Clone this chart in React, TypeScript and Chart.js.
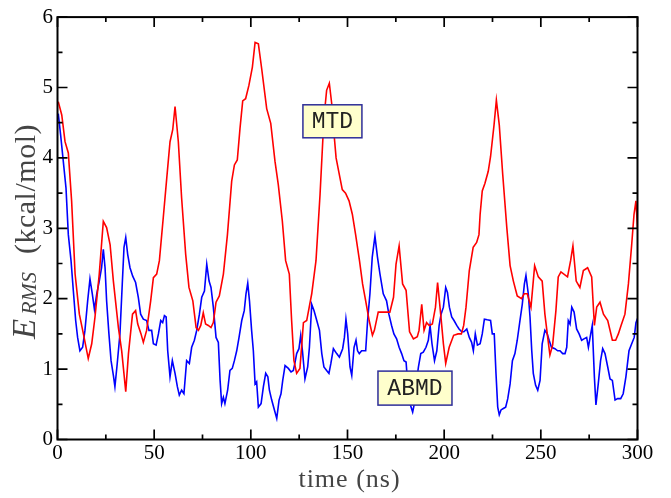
import { useEffect, useRef } from "react";
import { Chart, registerables } from "chart.js";

Chart.register(...registerables);

// ---- data ----
const mtdTime = [
  0.4, 2.2, 3.9, 5.6, 7.3, 9.1, 11.3, 13.4, 15.9, 17.7, 19.4, 21.6, 23.7, 25.4, 27.2, 28.9, 31.5, 33.2, 35.3, 36.7,
  38.8, 40.4, 41.5, 43.2, 44.4, 46.1, 48.2, 49.6, 51.3, 52.7, 54.7, 56.5, 58.2, 59.6, 60.8, 62.5, 64.2, 66.3, 68.0, 70.0,
  71.7, 72.9, 74.1, 75.4, 76.6, 78.0, 79.4, 80.6, 82.0, 83.7, 85.8, 87.9, 90.1, 91.5, 93.0, 94.4, 95.8, 97.3, 99.0, 100.8,
  102.2, 103.9, 105.6, 108.2, 110.3, 112.5, 114.2, 116.3, 118.0, 119.9, 121.1, 122.3, 123.7, 125.4, 127.2, 128.9, 131.5, 133.7, 135.8, 137.8,
  139.2, 140.6, 141.8, 143.0, 144.1, 145.3, 147.3, 149.0, 150.8, 152.5, 154.2, 156.2, 157.8, 159.4, 161.2, 162.9, 163.9, 165.9, 168.8, 171.9,
  173.8, 175.1, 176.7, 178.5, 180.3, 182.1, 184.1, 186.1, 187.0, 188.4, 189.6, 190.9, 192.3, 193.9, 195.5, 196.6, 198.2, 199.6, 200.8, 202.6,
  204.9, 207.2, 208.9, 210.1, 211.3, 213.0, 215.0, 216.8, 218.0, 218.6, 219.7, 221.1, 222.8, 224.0, 225.8, 227.0, 228.5, 230.3, 232.4, 234.1,
  235.8, 237.8, 240.0, 241.4, 243.0, 244.9, 246.8, 248.7, 250.7, 252.1, 253.5, 254.7, 256.1, 257.8, 259.0, 260.4, 263.8, 265.4, 266.6, 268.3,
  270.2, 272.0, 274.2, 276.3, 277.7, 278.9, 280.6, 282.4, 284.6, 287.0, 288.7, 290.1, 291.5, 293.5, 295.3, 297.0, 298.2, 299.2, 300.0,
];
const mtdEnergy = [
  4.80, 4.61, 4.23, 4.07, 3.39, 2.35, 1.78, 1.50, 1.15, 1.36, 1.74, 2.35, 3.10, 3.01, 2.77, 2.25, 1.59, 1.26, 0.68, 1.22,
  1.78, 1.83, 1.64, 1.50, 1.38, 1.55, 1.97, 2.30, 2.35, 2.54, 3.15, 3.71, 4.23, 4.40, 4.73, 4.23, 3.43, 2.63, 2.16, 1.97,
  1.59, 1.55, 1.62, 1.80, 1.64, 1.62, 1.59, 1.66, 1.95, 2.04, 2.35, 2.91, 3.67, 3.90, 3.97, 4.42, 4.81, 4.84, 5.03, 5.29,
  5.64, 5.62, 5.27, 4.70, 4.49, 3.95, 3.62, 3.10, 2.54, 2.35, 1.69, 1.12, 0.94, 1.01, 1.66, 1.69, 2.07, 2.54, 3.48, 4.56,
  4.96, 5.06, 4.78, 4.35, 4.00, 3.83, 3.55, 3.50, 3.39, 3.20, 2.91, 2.54, 2.21, 1.97, 1.69, 1.48, 1.55, 1.81, 1.81, 1.81,
  2.02, 2.49, 2.75, 2.21, 2.12, 1.53, 1.43, 1.46, 1.55, 1.92, 1.55, 1.66, 1.62, 1.64, 1.88, 2.23, 1.78, 1.36, 1.08, 1.31,
  1.48, 1.50, 1.50, 1.62, 1.88, 2.40, 2.73, 2.80, 2.91, 3.20, 3.53, 3.64, 3.81, 4.02, 4.47, 4.82, 4.47, 3.76, 3.01, 2.47,
  2.25, 2.04, 2.00, 2.07, 2.07, 1.88, 2.47, 2.31, 2.25, 1.78, 1.46, 1.20, 1.34, 1.83, 2.31, 2.38, 2.31, 2.54, 2.75, 2.25,
  2.16, 2.40, 2.44, 2.31, 1.62, 1.88, 1.95, 1.78, 1.69, 1.41, 1.41, 1.50, 1.62, 1.78, 2.21, 2.77, 3.20, 3.39, 3.00,
];
const abmdTime = [
  0.4, 1.6, 3.0, 4.4, 5.6, 7.0, 8.2, 9.4, 10.4, 11.6, 13.0, 14.2, 15.6, 16.8, 18.0, 19.1, 20.3, 21.6, 22.8, 23.7,
  24.6, 25.4, 26.6, 27.7, 28.9, 29.7, 30.9, 32.3, 33.5, 34.4, 35.3, 36.3, 37.5, 38.9, 40.4, 41.8, 43.0, 44.4, 46.1, 47.3,
  48.7, 49.6, 51.0, 52.2, 53.4, 54.4, 55.3, 56.2, 57.0, 58.2, 59.4, 60.8, 62.0, 63.0, 64.2, 65.4, 66.8, 68.2, 69.4, 70.8,
  72.0, 73.4, 74.6, 76.0, 77.2, 78.4, 79.4, 80.6, 82.0, 83.2, 84.1, 84.9, 85.8, 86.6, 88.0, 89.2, 90.4, 91.5, 92.7, 93.9,
  95.3, 96.6, 97.5, 98.4, 99.3, 100.4, 101.3, 102.2, 103.0, 103.9, 105.3, 106.5, 107.7, 108.8, 109.6, 110.8, 112.2, 113.4, 114.6, 115.6,
  116.5, 117.7, 119.4, 120.8, 122.0, 122.9, 123.7, 124.9, 125.8, 126.7, 128.0, 129.4, 130.3, 131.5, 132.7, 134.1, 135.5, 136.7, 137.8, 139.2,
  140.4, 141.4, 142.7, 144.4, 145.8, 147.5, 148.4, 149.2, 150.1, 151.3, 152.2, 153.4, 154.4, 155.2, 156.1, 157.3, 159.4, 160.4, 161.6, 162.8,
  164.2, 165.5, 166.8, 168.5, 170.2, 171.4, 172.8, 174.0, 175.4, 176.7, 178.0, 179.2, 180.3, 181.0, 182.3, 183.7, 184.6, 185.5, 186.7, 187.9,
  189.2, 190.6, 191.8, 192.7, 193.7, 195.0, 196.2, 197.4, 198.4, 199.6, 200.8, 201.7, 202.7, 203.9, 205.1, 206.5, 207.7, 209.1, 210.2, 211.7,
  213.0, 214.2, 215.1, 216.1, 217.2, 218.6, 219.7, 220.8, 222.3, 224.0, 224.9, 225.9, 226.8, 227.7, 228.5, 229.4, 230.6, 231.8, 232.9, 234.1,
  235.3, 236.6, 237.8, 239.2, 240.4, 241.5, 242.3, 243.5, 244.4, 245.3, 246.1, 247.3, 248.4, 249.6, 250.7, 252.1, 253.3, 254.3, 255.5, 257.3,
  258.7, 259.9, 261.3, 262.5, 263.4, 264.2, 265.1, 266.0, 267.2, 268.5, 269.8, 271.1, 272.3, 273.7, 274.6, 275.8, 276.6, 277.7, 278.5, 279.7,
  280.9, 282.0, 283.2, 284.6, 285.8, 287.0, 288.4, 289.7, 291.3, 292.6, 294.0, 295.6, 297.0, 298.3, 299.2, 300.0,
];
const abmdEnergy = [
  4.63, 4.33, 3.95, 3.57, 2.91, 2.54, 2.11, 1.69, 1.45, 1.26, 1.31, 1.55, 1.97, 2.28, 2.07, 1.85, 2.07, 2.25, 2.44, 2.70,
  2.44, 1.97, 1.50, 1.12, 0.91, 0.75, 1.08, 1.50, 2.21, 2.73, 2.87, 2.63, 2.44, 2.32, 2.23, 2.02, 1.78, 1.71, 1.69, 1.55,
  1.55, 1.36, 1.34, 1.50, 1.69, 1.66, 1.76, 1.74, 1.26, 0.89, 1.12, 0.94, 0.75, 0.63, 0.70, 0.65, 1.12, 1.08, 1.31, 1.41,
  1.55, 1.78, 2.02, 2.11, 2.49, 2.25, 2.16, 1.88, 1.45, 1.38, 0.84, 0.51, 0.60, 0.51, 0.70, 0.98, 1.01, 1.12, 1.26, 1.45,
  1.69, 1.83, 2.07, 2.22, 1.97, 1.55, 1.26, 0.79, 0.82, 0.46, 0.51, 0.75, 0.94, 0.89, 0.70, 0.56, 0.42, 0.30, 0.56, 0.65,
  0.84, 1.05, 1.01, 0.96, 0.98, 1.10, 1.22, 1.29, 1.48, 1.26, 0.86, 1.03, 1.31, 1.92, 1.83, 1.69, 1.55, 1.22, 1.03, 0.98,
  0.94, 1.08, 1.29, 1.22, 1.17, 1.29, 1.45, 1.71, 1.50, 1.03, 0.91, 1.31, 1.41, 1.26, 1.22, 1.26, 1.26, 1.69, 2.07, 2.59,
  2.89, 2.59, 2.35, 2.07, 1.97, 1.78, 1.62, 1.50, 1.43, 1.31, 1.22, 1.12, 1.10, 0.84, 0.51, 0.39, 0.51, 0.79, 1.03, 1.22,
  1.24, 1.31, 1.41, 1.62, 1.36, 1.12, 1.26, 1.62, 1.78, 1.88, 2.16, 2.09, 1.88, 1.74, 1.69, 1.62, 1.57, 1.53, 1.53, 1.57,
  1.45, 1.38, 1.26, 1.50, 1.34, 1.36, 1.50, 1.71, 1.70, 1.69, 1.50, 1.50, 0.94, 0.46, 0.35, 0.42, 0.44, 0.46, 0.58, 0.79,
  1.12, 1.22, 1.41, 1.69, 1.92, 2.21, 2.33, 2.07, 1.74, 1.26, 0.94, 0.77, 0.70, 0.84, 1.36, 1.55, 1.50, 1.41, 1.31, 1.29,
  1.26, 1.26, 1.22, 1.22, 1.31, 1.69, 1.64, 1.88, 1.81, 1.57, 1.50, 1.41, 1.43, 1.45, 1.31, 1.50, 1.62, 0.89, 0.49, 0.79,
  1.12, 1.29, 1.22, 1.03, 0.86, 0.84, 0.56, 0.58, 0.58, 0.65, 0.89, 1.26, 1.36, 1.45, 1.66, 1.72,
];
const seriesNames = ["MTD", "ABMD"];
const xTickValues = [0, 50, 100, 150, 200, 250, 300];
const yTickValues = [0, 1, 2, 3, 4, 5, 6];
const xAxisTitle = "time (ns)";
const yAxisTitleMain = "E";
const yAxisTitleSub = "RMS";
const yAxisTitleUnit = "(kcal/mol)";

const toPoints = (xs: number[], ys: number[]) => xs.map((x, i) => ({ x, y: ys[i] }));

const SERIF = "'Liberation Serif', 'Times New Roman', serif";
const MONO = "'Liberation Mono', 'DejaVu Sans Mono', monospace";

const decorPlugin = {
  id: "decor",
  afterDatasetsDraw(chart: any) {
    const { ctx, chartArea: a, scales } = chart;
    const xs = scales.x;
    const ys = scales.y;
    ctx.save();
    // inward ticks on all four sides
    ctx.strokeStyle = "#000";
    ctx.lineWidth = 1.7;
    ctx.beginPath();
    const xStep = (xTickValues[1] - xTickValues[0]) / 2;
    for (let v = xTickValues[0]; v <= xTickValues[xTickValues.length - 1] + 1e-6; v += xStep) {
      const px = xs.getPixelForValue(v);
      const major = Math.abs(((v - xTickValues[0]) / (2 * xStep)) % 1) < 1e-6;
      const len = major ? 10 : 5;
      ctx.moveTo(px, a.bottom);
      ctx.lineTo(px, a.bottom - len);
      ctx.moveTo(px, a.top);
      ctx.lineTo(px, a.top + len);
    }
    const yStep = (yTickValues[1] - yTickValues[0]) / 2;
    for (let v = yTickValues[0]; v <= yTickValues[yTickValues.length - 1] + 1e-6; v += yStep) {
      const py = ys.getPixelForValue(v);
      const major = Math.abs(((v - yTickValues[0]) / (2 * yStep)) % 1) < 1e-6;
      const len = major ? 10 : 5;
      ctx.moveTo(a.left, py);
      ctx.lineTo(a.left + len, py);
      ctx.moveTo(a.right, py);
      ctx.lineTo(a.right - len, py);
    }
    ctx.stroke();
    // frame
    ctx.lineWidth = 2;
    ctx.strokeRect(a.left, a.top, a.right - a.left, a.bottom - a.top);

    // labels in boxes
    const drawLabel = (text: string, dx: number, dy: number, w: number, h: number) => {
      const cx = xs.getPixelForValue(dx);
      const cy = ys.getPixelForValue(dy);
      ctx.fillStyle = "#ffffcc";
      ctx.fillRect(cx - w / 2, cy - h / 2, w, h);
      ctx.strokeStyle = "#2e2e99";
      ctx.lineWidth = 1.5;
      ctx.strokeRect(cx - w / 2, cy - h / 2, w, h);
      ctx.fillStyle = "#222";
      ctx.font = `23px ${MONO}`;
      ctx.textAlign = "center";
      ctx.textBaseline = "middle";
      ctx.fillText(text, cx, cy + 1);
    };
    drawLabel(seriesNames[0], 142.2, 4.52, 59, 33);
    drawLabel(seriesNames[1], 184.9, 0.73, 74, 34);

    // x axis title
    ctx.fillStyle = "#444";
    ctx.textAlign = "center";
    ctx.textBaseline = "alphabetic";
    ctx.font = `26px ${SERIF}`;
    (ctx as any).letterSpacing = "1px";
    ctx.fillText(xAxisTitle, (a.left + a.right) / 2 + 2, 487);

    // y axis title (rotated), with italic subscript
    ctx.save();
    ctx.translate(35, 339);
    ctx.rotate(-Math.PI / 2);
    ctx.textAlign = "left";
    (ctx as any).letterSpacing = "0px";
    ctx.font = `italic 33px ${SERIF}`;
    ctx.fillText(yAxisTitleMain, 0, 0);
    const eW = ctx.measureText(yAxisTitleMain).width;
    ctx.font = `italic 22px ${SERIF}`;
    ctx.fillText(yAxisTitleSub, eW + 4, 1);
    (ctx as any).letterSpacing = "0.5px";
    ctx.font = `30px ${SERIF}`;
    ctx.fillText(yAxisTitleUnit, 85, 0);
    ctx.restore();

    ctx.restore();
  },
};

export default function App() {
  const canvasRef = useRef<HTMLCanvasElement | null>(null);

  useEffect(() => {
    if (!canvasRef.current) return;
    const chart = new Chart(canvasRef.current, {
      type: "line",
      data: {
        datasets: [
          {
            label: seriesNames[0],
            data: toPoints(mtdTime, mtdEnergy),
            borderColor: "#ff0000",
            borderWidth: 1.6,
            pointRadius: 0,
            tension: 0,
            fill: false,
          },
          {
            label: seriesNames[1],
            data: toPoints(abmdTime, abmdEnergy),
            borderColor: "#0000ff",
            borderWidth: 1.6,
            pointRadius: 0,
            tension: 0,
            fill: false,
          },
        ],
      },
      options: {
        animation: false,
        responsive: false,
        maintainAspectRatio: false,
        events: [],
        layout: { padding: { left: 0, top: 15, right: 33.5, bottom: 0 } },
        plugins: {
          legend: { display: false },
          tooltip: { enabled: false },
          title: { display: false },
        },
        scales: {
          x: {
            type: "linear",
            min: xTickValues[0],
            max: xTickValues[xTickValues.length - 1],
            afterFit: (s: any) => {
              s.height = 58.5;
            },
            afterBuildTicks: (s: any) => {
              s.ticks = xTickValues.map((v) => ({ value: v }));
            },
            grid: { display: false, drawTicks: false },
            border: { display: false },
            ticks: {
              autoSkip: false,
              maxRotation: 0,
              padding: 1,
              color: "#000",
              font: { family: SERIF, size: 21 },
              callback: (v: any) => String(v),
            },
          },
          y: {
            type: "linear",
            min: yTickValues[0],
            max: yTickValues[yTickValues.length - 1],
            afterFit: (s: any) => {
              s.width = 57.5;
            },
            afterBuildTicks: (s: any) => {
              s.ticks = yTickValues.map((v) => ({ value: v }));
            },
            grid: { display: false, drawTicks: false },
            border: { display: false },
            ticks: {
              autoSkip: false,
              padding: 4.5,
              color: "#000",
              font: { family: SERIF, size: 21 },
              callback: (v: any) => String(v),
            },
          },
        },
      },
      plugins: [decorPlugin],
    });
    return () => chart.destroy();
  }, []);

  return (
    <div style={{ position: "fixed", left: 0, top: 0, width: 671, height: 498, background: "#fff" }}>
      <canvas ref={canvasRef} width={671} height={498} style={{ width: 671, height: 498, display: "block" }} />
    </div>
  );
}
